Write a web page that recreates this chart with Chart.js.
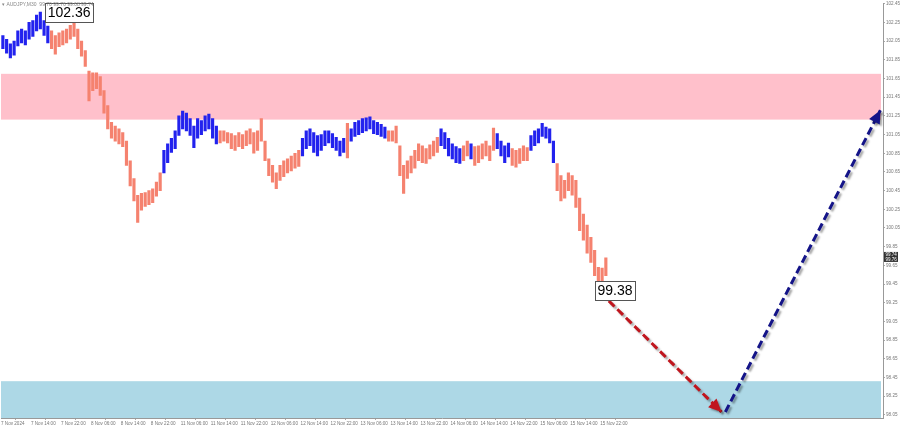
<!DOCTYPE html>
<html>
<head>
<meta charset="utf-8">
<script src="https://cdn.jsdelivr.net/npm/chart.js@4.4.1/dist/chart.umd.min.js"></script>
<style>
  html, body { margin: 0; background: #fff; }
</style>
</head>
<body>
<canvas id="chart" width="900" height="430"></canvas>
<script>
// AUDJPY M30 - bars (one bar per hour of trading)
const highs = [
  102.11,102.07,102.02,102.05,102.16,102.18,102.16,102.25,102.27,102.33,
  102.36,102.27,102.21,102.16,102.11,102.14,102.16,102.18,102.22,102.25,
  102.18,102.05,101.95,101.73,101.71,101.71,101.67,101.52,101.36,101.18,
  101.14,101.11,101.07,100.98,100.77,100.58,100.40,100.42,100.43,100.45,
  100.47,100.54,100.64,100.88,100.95,101.01,101.09,101.25,101.30,101.28,
  101.22,101.14,101.22,101.20,101.25,101.27,101.22,101.14,101.09,101.09,
  101.07,101.06,101.04,101.07,101.05,101.09,101.11,101.07,101.09,101.22,
  100.98,100.79,100.72,100.64,100.72,100.77,100.79,100.82,100.85,100.88,
  101.01,101.09,101.11,101.07,101.04,101.05,101.09,101.09,101.06,101.02,
  100.98,101.01,101.17,101.11,101.18,101.20,101.22,101.23,101.24,101.20,
  101.18,101.16,101.13,101.09,101.09,101.14,100.93,100.72,100.77,100.82,
  100.88,100.95,100.93,100.90,100.94,100.98,101.02,101.11,101.07,101.01,
  100.95,100.92,100.90,100.93,100.98,100.95,100.92,100.93,100.95,100.98,
  100.93,101.12,101.06,100.98,100.93,100.96,100.90,100.88,100.90,100.93,
  100.91,101.04,101.09,101.11,101.17,101.13,101.11,100.98,100.74,100.61,
  100.56,100.64,100.61,100.56,100.37,100.20,100.08,99.95,99.81,99.63,
  99.62,99.73
];
const lows = [
  101.97,101.92,101.87,101.90,102.00,102.03,102.01,102.07,102.10,102.16,
  102.18,102.11,102.03,101.97,101.91,101.99,102.01,102.03,102.07,102.10,
  101.97,101.89,101.78,101.41,101.52,101.54,101.47,101.28,101.11,101.01,
  100.98,100.95,100.92,100.72,100.50,100.34,100.11,100.24,100.28,100.30,
  100.32,100.39,100.45,100.64,100.75,100.86,100.90,101.04,101.11,101.09,
  101.04,100.91,101.01,101.05,101.09,101.11,101.01,100.95,100.96,100.98,
  100.96,100.90,100.88,100.92,100.90,100.93,100.95,100.85,100.88,100.98,
  100.77,100.61,100.54,100.47,100.56,100.60,100.64,100.66,100.69,100.71,
  100.82,100.90,100.93,100.86,100.82,100.88,100.93,100.96,100.91,100.88,
  100.82,100.86,100.80,100.98,101.03,101.05,101.07,101.09,101.11,101.06,
  101.05,101.03,101.01,100.98,100.98,100.96,100.61,100.42,100.58,100.64,
  100.69,100.77,100.75,100.74,100.79,100.82,100.86,100.93,100.90,100.82,
  100.79,100.75,100.74,100.77,100.82,100.79,100.72,100.75,100.79,100.82,
  100.77,100.88,100.90,100.82,100.75,100.81,100.72,100.70,100.74,100.77,
  100.77,100.88,100.93,100.96,101.03,101.01,100.96,100.75,100.45,100.34,
  100.37,100.45,100.40,100.27,100.02,99.92,99.78,99.68,99.54,99.38,
  99.46,99.54
];
// bar index runs drawn blue (upward waves), the rest salmon
const upRuns = [[0,12],[43,57],[80,91],[93,102],[117,122],[125,125],[132,135],[141,147]];

const timeLabels = [
  "7 Nov 2024","7 Nov 14:00","7 Nov 22:00","8 Nov 06:00","8 Nov 14:00","8 Nov 22:00",
  "11 Nov 06:00","11 Nov 14:00","11 Nov 22:00","12 Nov 06:00","12 Nov 14:00","12 Nov 22:00",
  "13 Nov 06:00","13 Nov 14:00","13 Nov 22:00","14 Nov 06:00","14 Nov 14:00","14 Nov 22:00",
  "15 Nov 06:00","15 Nov 14:00","15 Nov 22:00"
];
const priceTicks = [98.05,98.25,98.45,98.65,98.85,99.05,99.25,99.45,99.65,99.85,100.05,
  100.25,100.45,100.65,100.85,101.05,101.25,101.45,101.65,101.85,102.05,102.25,102.45];

// zones (price from / to)
const resistZone = [101.21, 101.70];
const supportZone = [97.90, 98.41];

// forecast arrows (hour, price)
const downArrowX = [160, 192.4];
const downArrowY = [99.36, 98.08];
const upArrowX = [193.4, 234.8];
const upArrowY = [98.08, 101.31];

// extreme labels
const markText = ["102.36", "99.38"];
const markHour = [11.8, 158.6];
const markPrice = [102.36, 99.38];
const lastPrice = 99.74;

const BLUE = "#2222ee";
const SALMON = "#f5826f";

function barColor(i) {
  for (const r of upRuns) if (i >= r[0] && i <= r[1]) return BLUE;
  return SALMON;
}

const bars = highs.map((h, i) => ({ x: i + 0.5, y: [lows[i], h] }));
const barColors = highs.map((_, i) => barColor(i));

const zonesPlugin = {
  id: "zones",
  beforeDatasetsDraw(chart) {
    const { ctx, chartArea: a, scales: { y } } = chart;
    ctx.save();
    ctx.beginPath();
    ctx.rect(a.left, a.top, a.right - a.left, a.bottom - a.top);
    ctx.clip();
    let t = y.getPixelForValue(resistZone[1]), b = y.getPixelForValue(resistZone[0]);
    ctx.fillStyle = "#ffc0cb";
    ctx.fillRect(a.left, t, a.right - a.left - 2, b - t);
    t = y.getPixelForValue(supportZone[1]); b = y.getPixelForValue(supportZone[0]);
    ctx.fillStyle = "#add8e6";
    ctx.fillRect(a.left, t, a.right - a.left - 2, b - t);
    ctx.restore();
  }
};

const arrowPlugin = {
  id: "arrows",
  beforeDatasetDraw(chart, args) {
    if (args.index === 0) return;
    const ctx = chart.ctx;
    ctx.save();
    ctx.shadowColor = "rgba(0,0,0,0.35)";
    ctx.shadowOffsetX = 2;
    ctx.shadowOffsetY = 2;
    ctx.shadowBlur = 2;
  },
  afterDatasetDraw(chart, args) {
    if (args.index === 0) return;
    const ctx = chart.ctx;
    const pts = args.meta.data;
    const p1 = pts[pts.length - 2], p2 = pts[pts.length - 1];
    const ang = Math.atan2(p2.y - p1.y, p2.x - p1.x);
    const len = 13, half = 6;
    ctx.fillStyle = chart.data.datasets[args.index].borderColor;
    ctx.beginPath();
    ctx.moveTo(p2.x, p2.y);
    ctx.lineTo(p2.x - len * Math.cos(ang) + half * Math.sin(ang), p2.y - len * Math.sin(ang) - half * Math.cos(ang));
    ctx.lineTo(p2.x - len * Math.cos(ang) - half * Math.sin(ang), p2.y - len * Math.sin(ang) + half * Math.cos(ang));
    ctx.closePath();
    ctx.fill();
    ctx.restore();
  }
};

const labelsPlugin = {
  id: "labels",
  afterDatasetsDraw(chart) {
    const { ctx, scales: { x, y } } = chart;
    ctx.save();
    ctx.font = "14px 'Liberation Sans', Arial, sans-serif";
    ctx.textBaseline = "middle";
    markText.forEach((txt, k) => {
      const left = x.getPixelForValue(markHour[k]);
      const cy = y.getPixelForValue(markPrice[k]);
      const w = ctx.measureText(txt).width + 5;
      const h = 19;
      ctx.fillStyle = "#fff";
      ctx.fillRect(left, cy - h / 2, w, h);
      ctx.strokeStyle = "#555";
      ctx.lineWidth = 1;
      ctx.strokeRect(Math.round(left) + 0.5, Math.round(cy - h / 2) + 0.5, Math.round(w), h);
      ctx.fillStyle = "#000";
      ctx.fillText(txt, left + 2.5, cy + 1);
    });
    ctx.restore();
  },
  afterDraw(chart) {
    const { ctx, chartArea: a, scales: { y } } = chart;
    ctx.save();
    // symbol caption
    ctx.font = "5px 'Liberation Sans', Arial, sans-serif";
    ctx.fillStyle = "#888";
    ctx.textBaseline = "middle";
    ctx.fillText("\u25BE AUDJPY,M30  99.70 99.76 99.68 99.74", 2, 5);
    // last price marker on the axis
    const cy = y.getPixelForValue(lastPrice);
    ctx.fillStyle = "#333";
    ctx.fillRect(a.right + 1, cy - 5, 14, 10);
    ctx.fillStyle = "#fff";
    ctx.font = "4.5px 'Liberation Sans', Arial, sans-serif";
    ctx.fillText(lastPrice.toFixed(2), a.right + 2.5, cy - 2);
    ctx.fillText("99.76", a.right + 2.5, cy + 2.5);
    ctx.restore();
  }
};

new Chart(document.getElementById("chart"), {
  type: "bar",
  data: {
    datasets: [
      {
        data: bars,
        backgroundColor: barColors,
        borderWidth: 0,
        barThickness: 2.5,
        order: 2
      },
      {
        type: "line",
        data: downArrowX.map((v, i) => ({ x: v, y: downArrowY[i] })),
        borderColor: "#c0161e",
        borderWidth: 3,
        borderDash: [8, 4],
        pointRadius: 0,
        fill: false,
        order: 1
      },
      {
        type: "line",
        data: upArrowX.map((v, i) => ({ x: v, y: upArrowY[i] })),
        borderColor: "#141488",
        borderWidth: 3,
        borderDash: [8, 4],
        pointRadius: 0,
        fill: false,
        order: 1
      }
    ]
  },
  options: {
    responsive: false,
    animation: false,
    layout: { padding: 0 },
    plugins: { legend: { display: false }, tooltip: { enabled: false } },
    scales: {
      x: {
        type: "linear",
        min: 0,
        max: 235.5,
        offset: false,
        afterBuildTicks: (s) => { s.ticks = timeLabels.map((_, k) => ({ value: k * 8 })); },
        afterFit: (s) => { s.height = 12; },
        grid: { drawOnChartArea: false, tickLength: 2, color: "#aaa" },
        border: { color: "#999" },
        ticks: {
          autoSkip: false,
          maxRotation: 0,
          align: "start",
          padding: 1,
          color: "#777",
          font: { family: "'Liberation Sans', Arial, sans-serif", size: 4.6 },
          callback: (v) => timeLabels[Math.round(v / 8)]
        }
      },
      y: {
        position: "right",
        min: 98.016,
        max: 102.45,
        afterBuildTicks: (s) => { s.ticks = priceTicks.map((v) => ({ value: v })); },
        afterFit: (s) => { s.width = 17; },
        grid: { drawOnChartArea: false, tickLength: 2, color: "#aaa" },
        border: { color: "#999" },
        ticks: {
          autoSkip: false,
          padding: 1,
          color: "#777",
          font: { family: "'Liberation Sans', Arial, sans-serif", size: 4.6 },
          callback: (v) => v.toFixed(2)
        }
      }
    }
  },
  plugins: [zonesPlugin, arrowPlugin, labelsPlugin]
});
</script>
</body>
</html>
